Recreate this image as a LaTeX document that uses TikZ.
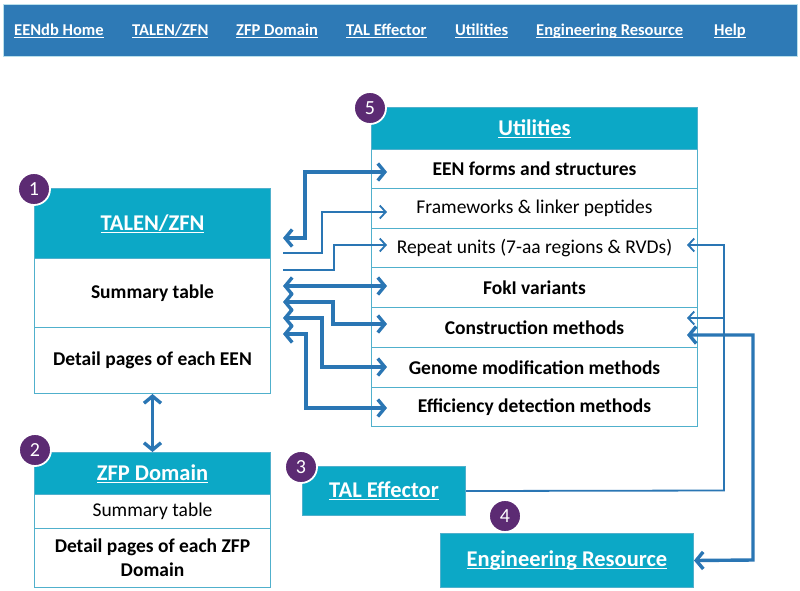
\documentclass[tikz,border=0pt]{standalone}
\usepackage{fontspec}
\setmainfont{Carlito}
\usetikzlibrary{arrows.meta}
\definecolor{navblue}{RGB}{46,122,182}
\definecolor{hdrteal}{RGB}{12,168,198}
\definecolor{linecol}{RGB}{80,176,204}
\definecolor{arrowblue}{RGB}{42,118,180}
\definecolor{circpurple}{RGB}{92,43,115}
\newsavebox\ulbox
\newcommand\ulx[1]{\sbox\ulbox{#1}\rlap{\rule[-2.6pt]{\wd\ulbox}{1.1pt}}\usebox\ulbox}
\newcommand\hdrfont{\fontsize{22.5}{27}\selectfont\bfseries}
\newcommand\rowfont{\fontsize{19.5}{24}\selectfont}
\newcommand\navfont{\fontsize{16.5}{20}\selectfont\bfseries}
\newcommand\numfont{\fontsize{20}{24}\selectfont}
\begin{document}
\begin{tikzpicture}[x=1pt,y=-1pt,
  box/.style={draw=linecol,line width=1pt,anchor=north west,inner sep=0pt,align=center},
  hdr/.style={box,fill=hdrteal,text=white,font=\hdrfont},
  rowb/.style={box,fill=white,font=\rowfont\bfseries},
  rowr/.style={box,fill=white,font=\rowfont},
  num/.style={circle,fill=circpurple,draw=white,line width=1.8pt,minimum size=32pt,inner sep=0pt,text=white,font=\numfont},
  nav/.style={anchor=west,text=white,font=\navfont,inner sep=0pt},
  thk/.style={draw=arrowblue,line width=3.4pt,>={Straight Barb[length=7pt,width=17pt]}},
  thn/.style={draw=arrowblue,line width=1.8pt,>={Straight Barb[length=6pt,width=13pt]}},
]
\useasboundingbox (0,0) rectangle (800,590);
\fill[white] (0,0) rectangle (800,590);
% navigation bar
\node[draw=linecol!40,fill=navblue,anchor=north west,inner sep=0pt,minimum width=794pt,minimum height=52pt] (bar) at (3,4) {};
\node[nav] (n1) at (14,31) {\ulx{EENdb Home}};
\node[nav] (n2) at (132,31) {\ulx{TALEN/ZFN}};
\node[nav] (n3) at (236,31) {\ulx{ZFP Domain}};
\node[nav] (n4) at (346,31) {\ulx{TAL Effector}};
\node[nav] (n5) at (455,31) {\ulx{Utilities}};
\node[nav] (n6) at (536,31) {\ulx{Engineering Resource}};
\node[nav] (n7) at (714,31) {\ulx{Help}};
% TALEN/ZFN
\node[hdr,minimum width=236pt,minimum height=70pt] (talenh) at (34,188) {\ulx{TALEN/ZFN}};
\node[rowb,minimum width=236pt,minimum height=69pt] (talen1) at (34,258) {Summary table};
\node[rowb,minimum width=236pt,minimum height=66pt] (talen2) at (34,327) {Detail pages of each EEN};
% ZFP Domain
\node[hdr,minimum width=236pt,minimum height=42pt] (zfph) at (34,452) {\ulx{ZFP Domain}};
\node[rowr,minimum width=236pt,minimum height=34pt] (zfp1) at (34,494) {Summary table};
\node[rowb,minimum width=236pt,minimum height=59pt] (zfp2) at (34,528) {Detail pages of each ZFP\\Domain};
% TAL Effector
\node[hdr,minimum width=163pt,minimum height=49pt] (tal) at (302,466) {\ulx{TAL Effector}};
% Engineering Resource
\node[hdr,minimum width=253pt,minimum height=54pt] (eng) at (440,533) {\ulx{Engineering Resource}};
% Utilities
\node[hdr,minimum width=326pt,minimum height=42pt] (utilh) at (371,107) {\ulx{Utilities}};
\node[rowb,minimum width=326pt,minimum height=39pt] (u1) at (371,149) {EEN forms and structures};
\node[rowr,minimum width=326pt,minimum height=40pt] (u2) at (371,188) {Frameworks \& linker peptides};
\node[rowr,minimum width=326pt,minimum height=39pt] (u3) at (371,228) {Repeat units (7-aa regions \& RVDs)};
\node[rowb,minimum width=326pt,minimum height=40pt] (u4) at (371,267) {FokI variants};
\node[rowb,minimum width=326pt,minimum height=40pt] (u5) at (371,307) {Construction methods};
\node[rowb,minimum width=326pt,minimum height=40pt] (u6) at (371,347) {Genome modification methods};
\node[rowb,minimum width=326pt,minimum height=39pt] (u7) at (371,387) {Efficiency detection methods};
% number badges
\node[num] (c1) at (34,189) {1};
\node[num] (c2) at (35,450) {2};
\node[num] (c3) at (301,467) {3};
\node[num] (c4) at (505,516) {4};
\node[num] (c5) at (370,108) {5};
% connector end points
\coordinate (l1) at (283,238);
\coordinate (l2) at (283,253);
\coordinate (l3) at (283,270);
\coordinate (l4) at (283,286);
\coordinate (l5) at (283,302);
\coordinate (l6) at (283,318);
\coordinate (l7) at (283,334);
\coordinate (r1) at (387,172);
\coordinate (r2) at (387,212);
\coordinate (r3) at (387,245);
\coordinate (r4) at (387,286);
\coordinate (r5) at (387,324);
\coordinate (r6) at (387,367);
\coordinate (r7) at (387,408);
\coordinate (e3) at (687,245);
\coordinate (e5a) at (687,318);
\coordinate (e5b) at (687,335);
\coordinate (br) at (724,318);
% connectors
\draw[thk,<->] (l1) -- (305,238) |- (r1);
\draw[thn,->] (l2) -- (322,253) |- (r2);
\draw[thn,->] (l3) -- (334,270) |- (r3);
\draw[thk,<->] (l4) -- (r4);
\draw[thk,<->] (l5) -- (333,302) |- (r5);
\draw[thk,<->] (l6) -- (322,318) |- (r6);
\draw[thk,<->] (l7) -- (306,334) |- (r7);
\draw[thk,<->] (talen2.south) -- (zfph.north);
\draw[thn,->] (tal.east) -- (724,490.5) |- (e3);
\draw[thn,->] (br) -- (e5a);
\draw[thk,<->] (e5b) -| (753,560) -- (eng.east);
\end{tikzpicture}
\end{document}
